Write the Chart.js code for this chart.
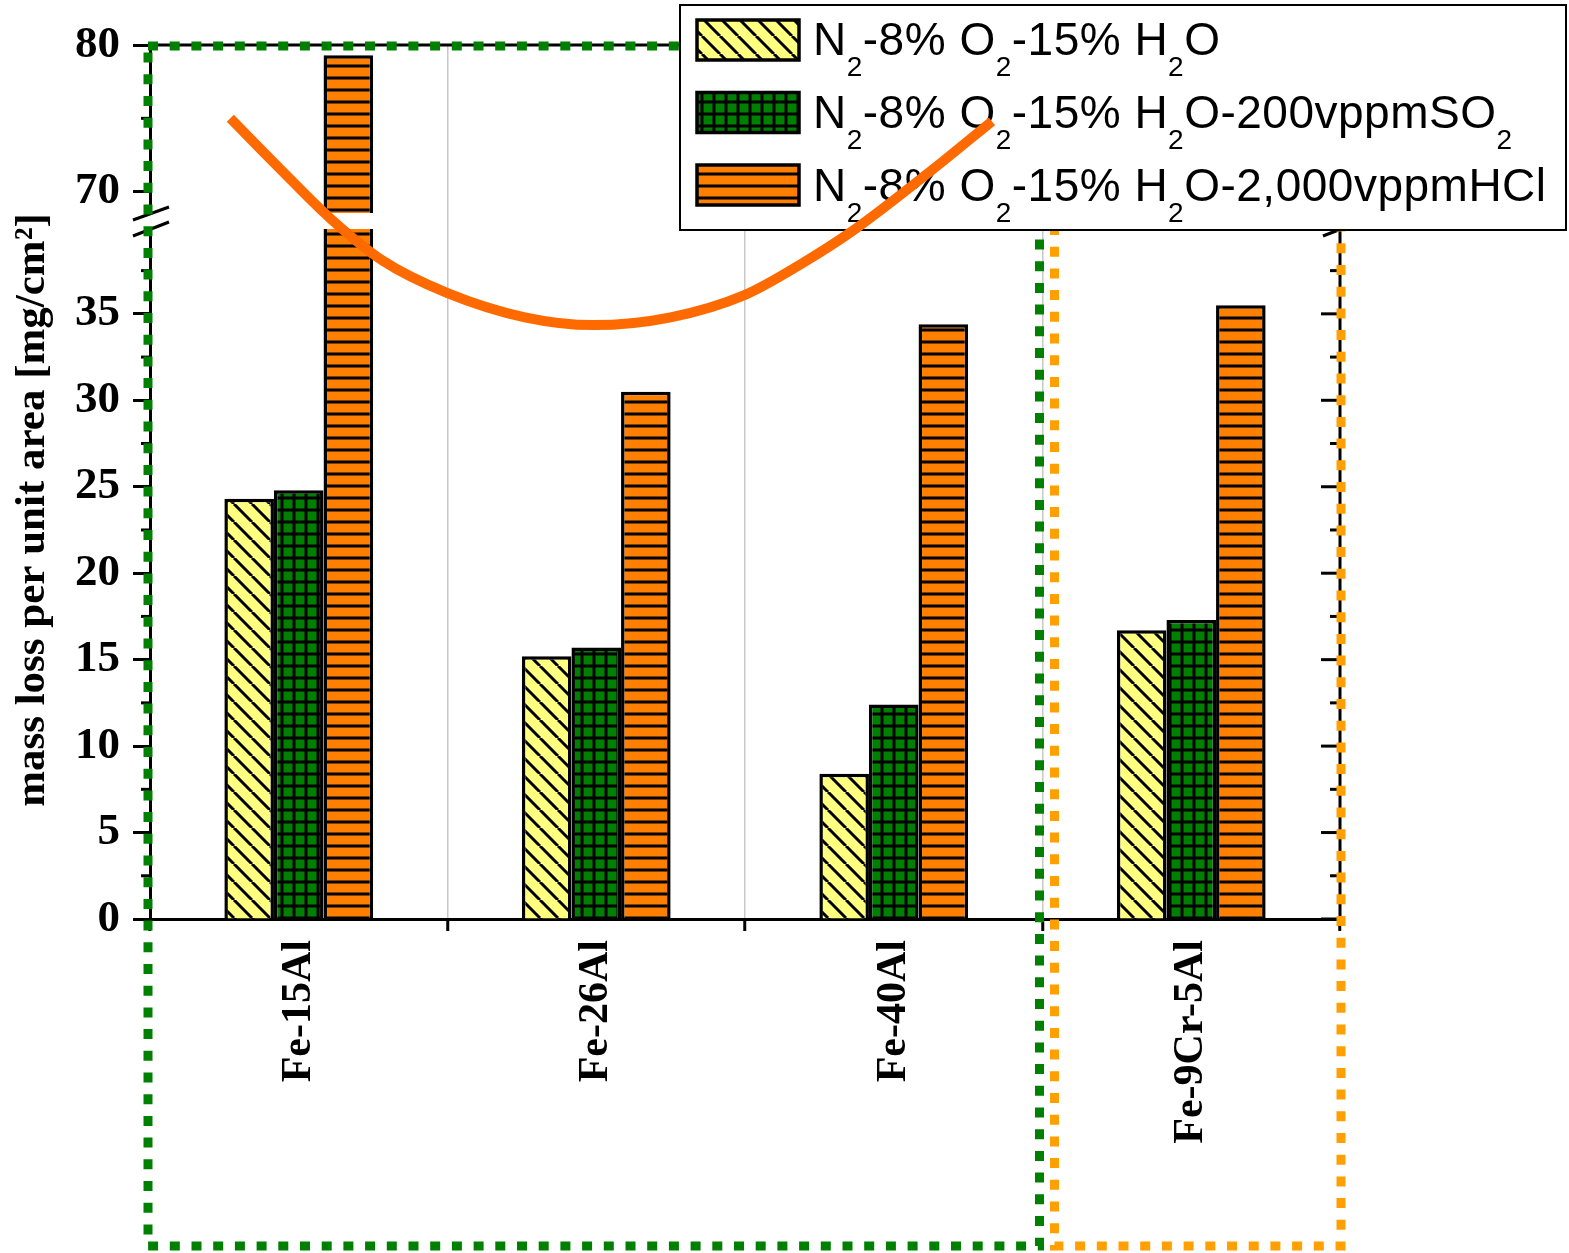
<!DOCTYPE html>
<html>
<head>
<meta charset="utf-8">
<script src="https://cdn.jsdelivr.net/npm/chart.js@4.4.1/dist/chart.umd.min.js"></script>
<style>
  html, body { margin: 0; padding: 0; background: #fff; }
  #wrap { width: 1569px; height: 1253px; }
</style>
</head>
<body>
<div id="wrap"><canvas id="chartMassLoss" width="1569" height="1253"></canvas></div>
<script>
/* mass loss per unit area — broken y axis bar chart */

const categories = ['Fe-15Al', 'Fe-26Al', 'Fe-40Al', 'Fe-9Cr-5Al'];
const seriesLabels = [
  'N₂-8% O₂-15% H₂O',
  'N₂-8% O₂-15% H₂O-200vppmSO₂',
  'N₂-8% O₂-15% H₂O-2,000vppmHCl'
];
const h2oValues = [24.3, 15.2, 8.4, 16.7];
const so2Values = [24.8, 15.7, 12.4, 17.3];
const hclValues = [79.3, 30.5, 34.4, 35.5];
const lowerTicks = [0, 5, 10, 15, 20, 25, 30, 35];
const upperTicks = [70, 80];
const yTitle = 'mass loss per unit area [mg/cm²]';

// hand-drawn orange guide curve: x in category units (0..4), y in axis units
const curveX = [0.27, 0.43, 0.61, 0.78, 1.00, 1.26, 1.49, 1.75, 2.00, 2.19, 2.37, 2.63, 2.83];
const curveY = [75.0, 71.7, 68.1, 38.1, 36.2, 34.8, 34.35, 34.8, 36.1, 37.9, 39.9, 71.5, 74.8];

const GAP = 16;
const SERIF = "'Liberation Serif', 'Times New Roman', serif";
const SANS = "'Liberation Sans', Arial, sans-serif";

// linear axis with a cut between breakLow and breakHigh
class BrokenLinearScale extends Chart.LinearScale {
  breakPixel() {
    return this.bottom - this.height * this.options.lowerShare;
  }
  getPixelForValue(value) {
    const lo = this.options.breakLow;
    const hi = this.options.breakHigh;
    const cut = this.breakPixel();
    if (value <= lo) {
      return this.bottom - (value - this.min) / (lo - this.min) * (this.bottom - cut);
    }
    if (value >= hi) {
      return cut - (value - hi) / (this.max - hi) * (cut - this.top);
    }
    return cut;
  }
  getValueForPixel(pixel) {
    const cut = this.breakPixel();
    if (pixel >= cut) {
      return this.min + (this.bottom - pixel) / (this.bottom - cut) * (this.options.breakLow - this.min);
    }
    return this.options.breakHigh + (cut - pixel) / (cut - this.top) * (this.max - this.options.breakHigh);
  }
}
BrokenLinearScale.id = 'brokenLinear';
BrokenLinearScale.defaults = Chart.LinearScale.defaults;
Chart.register(BrokenLinearScale);

function makePattern(size, bg, drawLines) {
  const c = document.createElement('canvas');
  c.width = size; c.height = size;
  const g = c.getContext('2d');
  g.fillStyle = bg;
  g.fillRect(0, 0, size, size);
  g.strokeStyle = '#000';
  g.lineWidth = 3;
  drawLines(g, size);
  return g.createPattern(c, 'repeat');
}

const patH2O = makePattern(18, '#ffff80', (g, s) => {
  g.beginPath();
  for (const off of [-s, 0, s]) { g.moveTo(off, 0); g.lineTo(off + s, s); }
  g.stroke();
});
const patSO2 = makePattern(12, '#008000', (g, s) => {
  g.beginPath();
  g.moveTo(0, s / 2); g.lineTo(s, s / 2);
  g.moveTo(s / 2, 0); g.lineTo(s / 2, s);
  g.stroke();
});
const patHCl = makePattern(12, '#ff8000', (g, s) => {
  g.beginPath();
  g.moveTo(0, s / 2); g.lineTo(s, s / 2);
  g.stroke();
});
const patterns = [patH2O, patSO2, patHCl];

function line(ctx, x1, y1, x2, y2) {
  ctx.beginPath(); ctx.moveTo(x1, y1); ctx.lineTo(x2, y2); ctx.stroke();
}

function minorValues(ticks, lo, hi) {
  const step = ticks[1] - ticks[0];
  return ticks.map(t => t + step / 2).filter(v => v >= lo && v <= hi);
}

function drawSubText(ctx, text, x, y) {
  const parts = text.split('₂');
  ctx.letterSpacing = '0.5px';
  parts.forEach((p, i) => {
    ctx.font = '46px ' + SANS;
    ctx.fillText(p, x, y);
    x += ctx.measureText(p).width;
    if (i < parts.length - 1) {
      ctx.font = '28px ' + SANS;
      ctx.fillText('2', x, y + 21);
      x += ctx.measureText('2').width;
    }
  });
  ctx.letterSpacing = '0px';
}

function drawFrame(chart) {
  const ctx = chart.ctx;
  const area = chart.chartArea;
  const ys = chart.scales.y;
  const xs = chart.scales.x;
  const brk = ys.breakPixel();
  const o = ys.options;

  ctx.save();
  ctx.strokeStyle = '#000';
  ctx.lineWidth = 3;
  // top and right axis lines
  line(ctx, area.left, area.top, area.right, area.top);
  line(ctx, area.right, area.top, area.right, area.bottom);

  // right axis ticks (inside), left minor ticks (outside)
  for (const v of lowerTicks.concat(upperTicks)) {
    const py = ys.getPixelForValue(v);
    line(ctx, area.right - 19, py, area.right, py);
  }
  const minors = minorValues(lowerTicks, ys.min, o.breakLow)
    .concat(minorValues(upperTicks, o.breakHigh, ys.max));
  for (const v of minors) {
    const py = ys.getPixelForValue(v);
    line(ctx, area.right - 10, py, area.right, py);
    line(ctx, area.left - 9, py, area.left, py);
  }

  // axis break marks
  for (const ax of [area.left, area.right]) {
    ctx.fillStyle = '#fff';
    ctx.fillRect(ax - 3, brk - GAP / 2 + 1, 6, GAP - 2);
    line(ctx, ax - 17, brk - 1, ax + 19, brk - 14);
    line(ctx, ax - 17, brk + 15, ax + 19, brk + 1);
  }

  // dotted group frames
  const split = xs.getPixelForValue(3);
  const bottom = chart.height - 7;
  ctx.lineWidth = 9;
  ctx.setLineDash([10, 11.7]);
  ctx.strokeStyle = '#ffa000';
  ctx.strokeRect(split + 12, 226, area.right + 1 - (split + 12), bottom - 226);
  ctx.strokeStyle = '#008000';
  ctx.strokeRect(area.left - 2, area.top + 1, split - 3 - (area.left - 2), bottom - area.top - 1);
  ctx.setLineDash([]);

  // legend
  const lg = { x: 680, y: 5, w: 886, h: 225 };
  ctx.fillStyle = '#fff';
  ctx.fillRect(lg.x, lg.y, lg.w, lg.h);
  ctx.strokeStyle = '#000';
  ctx.lineWidth = 2;
  ctx.strokeRect(lg.x, lg.y, lg.w, lg.h);
  ctx.textAlign = 'left';
  ctx.textBaseline = 'alphabetic';
  seriesLabels.forEach((lab, i) => {
    const sy = 20 + i * 72.5;
    ctx.fillStyle = patterns[i];
    ctx.fillRect(697, sy, 102, 40);
    ctx.lineWidth = 3.5;
    ctx.strokeRect(697, sy, 102, 40);
    ctx.fillStyle = '#000';
    drawSubText(ctx, lab, 813, 55 + i * 73);
  });

  // y axis title
  ctx.translate(33, (area.top + area.bottom) / 2 + 28);
  ctx.rotate(-Math.PI / 2);
  ctx.font = 'bold 43px ' + SERIF;
  ctx.textAlign = 'center';
  ctx.textBaseline = 'middle';
  ctx.fillStyle = '#000';
  ctx.fillText(yTitle, 0, 0);
  ctx.restore();
}

const breakPlugin = {
  id: 'breakAxis',
  beforeDatasetDraw(chart, args) {
    const ds = chart.data.datasets[args.index];
    if (ds.type === 'line') { drawFrame(chart); return; }
    const area = chart.chartArea;
    const brk = chart.scales.y.breakPixel();
    const ctx = chart.ctx;
    ctx.save();
    ctx.beginPath();
    ctx.rect(area.left - 5, area.top - 5, area.width + 10, brk - GAP / 2 - area.top + 5);
    ctx.rect(area.left - 5, brk + GAP / 2, area.width + 10, area.bottom - brk - GAP / 2 + 5);
    ctx.clip();
  },
  afterDatasetDraw(chart, args) {
    const ds = chart.data.datasets[args.index];
    if (ds.type !== 'line') chart.ctx.restore();
  }
};

// bars sit at the middle of each category slot on a 0..4 linear x axis
function barSet(label, values, pattern) {
  return {
    label: label,
    data: values.map((v, i) => ({ x: i + 0.5, y: v })),
    backgroundColor: pattern,
    borderColor: '#000',
    borderWidth: 3.5,
    categoryPercentage: 0.5,
    barPercentage: 1.0
  };
}

new Chart(document.getElementById('chartMassLoss').getContext('2d'), {
  type: 'bar',
  data: {
    datasets: [
      barSet(seriesLabels[0], h2oValues, patH2O),
      barSet(seriesLabels[1], so2Values, patSO2),
      barSet(seriesLabels[2], hclValues, patHCl),
      {
        type: 'line',
        label: 'trend',
        data: curveX.map((x, i) => ({ x: x, y: curveY[i] })),
        borderColor: '#ff6a00',
        borderWidth: 10,
        pointRadius: 0,
        cubicInterpolationMode: 'monotone',
        fill: false,
        clip: false,
        order: -1
      }
    ]
  },
  options: {
    responsive: false,
    animation: false,
    events: [],
    layout: { padding: { top: 45, right: 229, left: 0, bottom: 0 } },
    plugins: { legend: { display: false }, tooltip: { enabled: false } },
    scales: {
      x: {
        type: 'linear',
        position: 'bottom',
        min: 0,
        max: categories.length,
        offset: false,
        grid: { offset: true, color: '#c8c8c8', lineWidth: 1.5, tickColor: '#000', tickWidth: 3, tickLength: 12 },
        border: { color: '#000', width: 3 },
        ticks: {
          color: '#000',
          font: { family: SERIF, weight: 'bold', size: 42 },
          minRotation: 90, maxRotation: 90, padding: 9, autoSkip: false,
          callback: v => categories[Math.round(v - 0.5)]
        },
        afterBuildTicks: s => { s.ticks = categories.map((c, i) => ({ value: i + 0.5 })); },
        afterFit: s => { s.height = 334; }
      },
      y: {
        type: 'brokenLinear',
        position: 'left',
        min: 0,
        max: 80,
        breakLow: 40.37,
        breakHigh: 68,
        lowerShare: 698 / 874,
        grid: { drawOnChartArea: false, tickColor: '#000', tickWidth: 3, tickLength: 17 },
        border: { color: '#000', width: 3 },
        ticks: { color: '#000', font: { family: SERIF, weight: 'bold', size: 45 }, padding: 13 },
        afterBuildTicks: s => { s.ticks = lowerTicks.concat(upperTicks).map(v => ({ value: v })); },
        afterFit: s => { s.width = 150; }
      }
    }
  },
  plugins: [breakPlugin]
});
</script>
</body>
</html>
